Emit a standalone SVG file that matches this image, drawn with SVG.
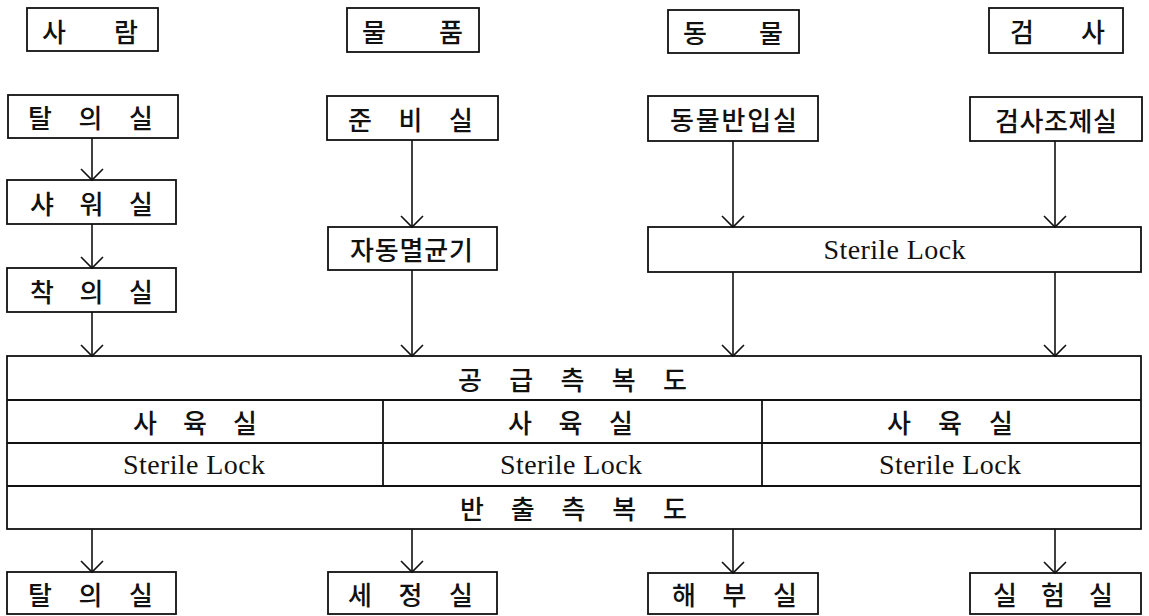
<svg xmlns="http://www.w3.org/2000/svg" width="1149" height="616" viewBox="0 0 1149 616">
<style>
.box{fill:#fff;stroke:#111;stroke-width:1.8}
.ln{fill:none;stroke:#111;stroke-width:1.8}
.ko{font-family:"Noto Sans CJK KR","Noto Sans",sans-serif;font-size:26px;font-weight:500;fill:#111;text-anchor:middle;dominant-baseline:central}
.en{font-family:"Liberation Serif","DejaVu Serif",serif;font-size:28px;fill:#111;text-anchor:middle;dominant-baseline:central}
.arr{fill:none;stroke:#111;stroke-width:1.6;marker-end:url(#v)}
</style>
<defs>
<marker id="v" viewBox="-13 -13 15 26" refX="0" refY="0" markerWidth="15" markerHeight="26" markerUnits="userSpaceOnUse" orient="auto" overflow="visible">
<path d="M-11,-11 L0,0 L-11,11" fill="none" stroke="#111" stroke-width="1.6"/>
</marker>
</defs>
<rect width="1149" height="616" fill="#fff"/>

<g id="h-person"><rect class="box" x="27" y="8" width="131" height="43"/><text class="ko" x="90" y="30" textLength="96" lengthAdjust="spacing">사 람</text></g>
<g id="h-goods"><rect class="box" x="347" y="8" width="132" height="44"/><text class="ko" x="412.5" y="30" textLength="101" lengthAdjust="spacing">물 품</text></g>
<g id="h-animal"><rect class="box" x="668" y="10" width="131" height="43"/><text class="ko" x="733" y="31.5" textLength="100" lengthAdjust="spacing">동 물</text></g>
<g id="h-test"><rect class="box" x="989" y="8" width="134" height="45"/><text class="ko" x="1057.5" y="30.5" textLength="95" lengthAdjust="spacing">검 사</text></g>

<g id="undress1"><rect class="box" x="8" y="95" width="170" height="43"/><text class="ko" x="90.5" y="116.5" textLength="125" lengthAdjust="spacing">탈 의 실</text></g>
<g id="prep"><rect class="box" x="327" y="96" width="171" height="44"/><text class="ko" x="410.5" y="118" textLength="125" lengthAdjust="spacing">준 비 실</text></g>
<g id="animal-in"><rect class="box" x="648" y="96" width="170" height="45"/><text class="ko" x="733.5" y="118.5" textLength="127" lengthAdjust="spacing">동물반입실</text></g>
<g id="test-prep"><rect class="box" x="970" y="97" width="172" height="44"/><text class="ko" x="1056" y="119" textLength="122" lengthAdjust="spacing">검사조제실</text></g>

<g id="shower"><rect class="box" x="7" y="180" width="169" height="44"/><text class="ko" x="91.5" y="202" textLength="123" lengthAdjust="spacing">샤 워 실</text></g>
<g id="dress"><rect class="box" x="7" y="268" width="169" height="44"/><text class="ko" x="91.5" y="290" textLength="123" lengthAdjust="spacing">착 의 실</text></g>
<g id="autoclave"><rect class="box" x="328" y="227" width="169" height="43"/><text class="ko" x="411.5" y="248.5" textLength="123" lengthAdjust="spacing">자동멸균기</text></g>
<g id="sterile-top"><rect class="box" x="648" y="227" width="493" height="45"/><text class="en" x="894.5" y="249.5" textLength="142" lengthAdjust="spacing">Sterile Lock</text></g>

<g id="facility">
<rect class="box" x="7" y="356" width="1134" height="173"/>
<line class="ln" x1="7" y1="400" x2="1141" y2="400"/>
<line class="ln" x1="7" y1="443" x2="1141" y2="443"/>
<line class="ln" x1="7" y1="486" x2="1141" y2="486"/>
<line class="ln" x1="383" y1="400" x2="383" y2="486"/>
<line class="ln" x1="762" y1="400" x2="762" y2="486"/>
<text class="ko" x="572.5" y="378" textLength="229" lengthAdjust="spacing">공 급 측 복 도</text>
<text class="ko" x="195" y="421.5" textLength="124" lengthAdjust="spacing">사 육 실</text>
<text class="ko" x="570.5" y="421.5" textLength="125" lengthAdjust="spacing">사 육 실</text>
<text class="ko" x="950" y="421.5" textLength="126" lengthAdjust="spacing">사 육 실</text>
<text class="en" x="194" y="464.5" textLength="142" lengthAdjust="spacing">Sterile Lock</text>
<text class="en" x="571" y="464.5" textLength="142" lengthAdjust="spacing">Sterile Lock</text>
<text class="en" x="950" y="464.5" textLength="142" lengthAdjust="spacing">Sterile Lock</text>
<text class="ko" x="573.5" y="507.5" textLength="227" lengthAdjust="spacing">반 출 측 복 도</text>
</g>

<g id="undress2"><rect class="box" x="7" y="572" width="169" height="42"/><text class="ko" x="90.5" y="593" textLength="125" lengthAdjust="spacing">탈 의 실</text></g>
<g id="wash"><rect class="box" x="328" y="572" width="169" height="42"/><text class="ko" x="410.5" y="593" textLength="125" lengthAdjust="spacing">세 정 실</text></g>
<g id="autopsy"><rect class="box" x="648" y="573" width="170" height="41"/><text class="ko" x="734.5" y="593.5" textLength="125" lengthAdjust="spacing">해 부 실</text></g>
<g id="lab"><rect class="box" x="970" y="573" width="171" height="41"/><text class="ko" x="1053" y="593.5" textLength="120" lengthAdjust="spacing">실 험 실</text></g>

<g id="connectors">
<line class="arr" x1="92" y1="138" x2="92" y2="180"/>
<line class="arr" x1="92" y1="224" x2="92" y2="268"/>
<line class="arr" x1="92" y1="312" x2="92" y2="356"/>
<line class="arr" x1="92" y1="529" x2="92" y2="572"/>
<line class="arr" x1="412" y1="140" x2="412" y2="227"/>
<line class="arr" x1="412" y1="270" x2="412" y2="356"/>
<line class="arr" x1="412" y1="529" x2="412" y2="572"/>
<line class="arr" x1="733" y1="141" x2="733" y2="227"/>
<line class="arr" x1="733" y1="272" x2="733" y2="356"/>
<line class="arr" x1="733" y1="529" x2="733" y2="573"/>
<line class="arr" x1="1055" y1="141" x2="1055" y2="227"/>
<line class="arr" x1="1055" y1="272" x2="1055" y2="356"/>
<line class="arr" x1="1055" y1="529" x2="1055" y2="573"/>
</g>
</svg>
